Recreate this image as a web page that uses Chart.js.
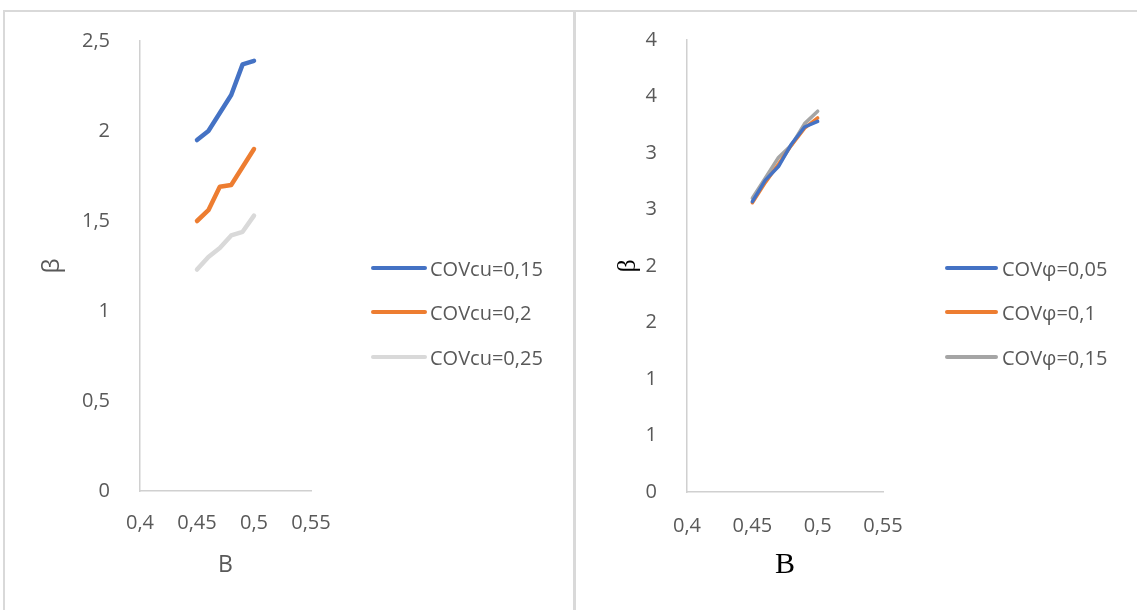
<!DOCTYPE html>
<html lang="en">
<head>
    <meta charset="UTF-8">
    <title>β versus B</title>
    <script src="https://cdn.jsdelivr.net/npm/chart.js"></script>
    <style>
        html, body { margin: 0; padding: 0; background: #fff; }
        body { width: 1137px; height: 610px; position: relative; overflow: hidden; font-family: 'Open Sans', sans-serif; }
        .frame { position: absolute; left: 3px; top: 10px; width: 1140px; height: 610px; border-top: 2px solid #d9d9d9; border-left: 2px solid #d9d9d9; }
        .divider { position: absolute; left: 573px; top: 10px; width: 3px; height: 600px; background: #d9d9d9; }
        .panel { position: absolute; top: 0; height: 610px; }
        .legend-item { position: absolute; display: flex; align-items: center; height: 30px; font-size: 20px; color: #595959; white-space: nowrap; }
        .swatch { border-radius: 3px; }
    </style>
</head>
<body>
    <div class="frame"></div>
    <div class="divider"></div>
    <div class="panel" style="left:0; width:572px;"><canvas id="leftChart" width="572" height="610"></canvas></div>
    <div class="panel" style="left:576px; width:561px;"><canvas id="rightChart" width="561" height="610"></canvas></div>

    <script>
        // x values (B) shared by all series
        const xValues = [0.45, 0.46, 0.47, 0.48, 0.49, 0.5];

        // left panel: COVcu
        const leftLabels = ['COVcu=0,15', 'COVcu=0,2', 'COVcu=0,25'];
        const covCu015 = [1.95, 2.0, 2.1, 2.2, 2.37, 2.39];
        const covCu02 = [1.5, 1.56, 1.69, 1.7, 1.8, 1.9];
        const covCu025 = [1.23, 1.3, 1.35, 1.42, 1.44, 1.53];
        const leftYTicks = ['0', '0,5', '1', '1,5', '2', '2,5'];

        // right panel: COVφ
        const rightLabels = ['COVφ=0,05', 'COVφ=0,1', 'COVφ=0,15'];
        const covPhi005 = [2.57, 2.76, 2.88, 3.08, 3.23, 3.28];
        const covPhi01 = [2.56, 2.74, 2.9, 3.07, 3.22, 3.31];
        const covPhi015 = [2.6, 2.78, 2.96, 3.07, 3.26, 3.37];
        const rightYTicks = ['0', '1', '1', '2', '2', '3', '3', '4', '4'];

        const xTicks = ['0,4', '0,45', '0,5', '0,55'];

        const leftColors = ['#4472C4', '#ED7D31', '#D9D9D9'];
        const rightColors = ['#4472C4', '#ED7D31', '#A5A5A5'];

        const tickColor = '#595959';
        const axisColor = '#d0d0d0';

        function toPoints(ys) {
            return ys.map((y, i) => ({ x: xValues[i], y: y }));
        }

        function makeChart(id, opts) {
            const ctx = document.getElementById(id).getContext('2d');
            return new Chart(ctx, {
                type: 'line',
                data: {
                    datasets: opts.series.map((ys, i) => ({
                        label: opts.labels[i],
                        data: toPoints(ys),
                        borderColor: opts.colors[i],
                        backgroundColor: opts.colors[i],
                        borderWidth: opts.lineWidth,
                        borderCapStyle: 'round',
                        borderJoinStyle: 'round',
                        pointRadius: 0,
                        tension: 0
                    }))
                },
                options: {
                    responsive: false,
                    animation: false,
                    layout: { padding: { left: 0, top: opts.top, right: opts.right, bottom: 0 } },
                    plugins: { legend: { display: false }, tooltip: { enabled: false } },
                    scales: {
                        x: {
                            type: 'linear',
                            min: 0.4,
                            max: 0.55,
                            afterFit: s => { s.height = opts.xHeight; },
                            grid: { display: false },
                            border: { color: axisColor, width: 1.5 },
                            ticks: {
                                stepSize: 0.05,
                                padding: opts.xTickPad,
                                color: tickColor,
                                font: { family: 'Open Sans', size: 20 },
                                maxRotation: 0,
                                callback: (v, i) => xTicks[i]
                            },
                            title: {
                                display: true,
                                text: 'B',
                                color: opts.titleColor,
                                font: opts.xTitleFont,
                                padding: { top: 0, bottom: opts.xTitlePad }
                            }
                        },
                        y: {
                            min: 0,
                            max: opts.yMax,
                            afterFit: s => { s.width = opts.yWidth; },
                            grid: { display: false },
                            border: { color: axisColor, width: 1.5 },
                            ticks: {
                                stepSize: 0.5,
                                padding: 22,
                                color: tickColor,
                                font: { family: 'Open Sans', size: 20 },
                                callback: (v, i) => opts.yTicks[i]
                            },
                            title: {
                                display: true,
                                text: 'β',
                                color: opts.titleColor,
                                font: opts.yTitleFont,
                                padding: { top: opts.yTitlePad, bottom: 0 }
                            }
                        }
                    }
                }
            });
        }

        makeChart('leftChart', {
            series: [covCu015, covCu02, covCu025],
            labels: leftLabels,
            colors: leftColors,
            lineWidth: 4.5,
            yMax: 2.5,
            yTicks: leftYTicks,
            top: 41,
            right: 572 - 311,
            yWidth: 140,
            xHeight: 610 - 491,
            xTickPad: 12,
            titleColor: '#595959',
            xTitleFont: { family: 'Open Sans', size: 23 },
            yTitleFont: { family: 'Open Sans', size: 24 },
            xTitlePad: 31,
            yTitlePad: 38
        });

        makeChart('rightChart', {
            series: [covPhi005, covPhi01, covPhi015],
            labels: rightLabels,
            colors: rightColors,
            lineWidth: 3.5,
            yMax: 4,
            yTicks: rightYTicks,
            top: 40,
            right: 561 - 307,
            yWidth: 111,
            xHeight: 610 - 492,
            xTickPad: 14,
            titleColor: '#000000',
            xTitleFont: { family: 'Liberation Serif', size: 30 },
            yTitleFont: { family: 'Liberation Serif', size: 26 },
            xTitlePad: 27,
            yTitlePad: 37
        });

        // HTML legends built from the same labels and colours
        function addLegend(labels, colors, left, centers, w, h, gap) {
            labels.forEach((text, i) => {
                const item = document.createElement('div');
                item.className = 'legend-item';
                item.style.left = left + 'px';
                item.style.top = (centers[i] - 15) + 'px';
                const sw = document.createElement('span');
                sw.className = 'swatch';
                sw.style.width = w + 'px';
                sw.style.height = h + 'px';
                sw.style.background = colors[i];
                sw.style.marginRight = gap + 'px';
                const label = document.createElement('span');
                label.textContent = text;
                item.appendChild(sw);
                item.appendChild(label);
                document.body.appendChild(item);
            });
        }

        addLegend(leftLabels, leftColors, 371, [268, 312, 357], 56, 4, 3);
        addLegend(rightLabels, rightColors, 945, [268, 312, 357], 53, 3.5, 4);
    </script>
</body>
</html>
